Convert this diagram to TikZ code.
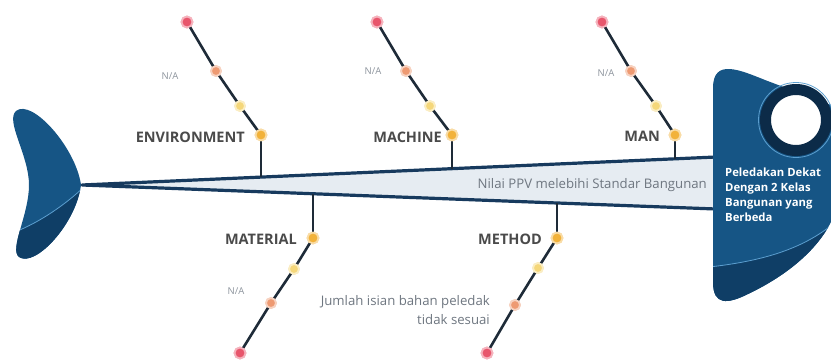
\documentclass[tikz,border=0pt]{standalone}
\usepackage{fontspec}
\setmainfont{Open Sans}
\definecolor{dotred}{HTML}{E8566C}
\definecolor{dotorange}{HTML}{EE9A72}
\definecolor{dotyellow}{HTML}{F5D77A}
\definecolor{dotgold}{HTML}{F2B23A}
\definecolor{bonec}{HTML}{1E2B38}
\definecolor{spinec}{HTML}{173A5E}
\definecolor{spinefill}{HTML}{E6ECF2}
\definecolor{headc}{HTML}{165585}
\definecolor{headdark}{HTML}{0F3E66}
\definecolor{ringc}{HTML}{0C2B48}
\definecolor{hilite}{HTML}{5C9FD0}
\definecolor{catgray}{HTML}{4A4A4A}
\definecolor{textgray}{HTML}{6E7680}
\definecolor{nagray}{HTML}{8C939C}
\begin{document}
\begin{tikzpicture}[x=1pt,y=-1pt,
  bone/.style={line width=2.6pt, draw=bonec},
  dotbase/.style={circle, inner sep=0pt, draw=#1!45, line width=1.8pt, fill=#1},
  dr/.style={dotbase=dotred, minimum size=11pt},
  dor/.style={dotbase=dotorange, minimum size=10pt},
  dy/.style={dotbase=dotyellow, minimum size=10pt},
  dg/.style={dotbase=dotgold, minimum size=11pt},
  cat/.style={font=\bfseries\fontsize{14.5}{17}\selectfont, text=catgray, anchor=east, inner sep=0pt},
  na/.style={font=\fontsize{9.5}{11}\selectfont, text=nagray, inner sep=0pt},
  note/.style={font=\fontsize{13.2}{19.5}\selectfont, text=textgray, inner sep=0pt}
]
\useasboundingbox (0,0) rectangle (831,362);

% spine
\coordinate (tail) at (82,185);
\coordinate (spT) at (716,157);
\coordinate (spB) at (716,209);
\filldraw[fill=spinefill, draw=spinec, line width=3.2pt, line join=round] (tail) -- (spT) -- (spB) -- cycle;
\node[note, anchor=east] (ppv) at (707,185) {Nilai PPV melebihi Standar Bangunan};

% attachment points on spine
\coordinate (aEnv) at (261,177.1);
\coordinate (aMac) at (452,168.7);
\coordinate (aMan) at (675,158.8);
\coordinate (aMat) at (313,193.7);
\coordinate (aMet) at (557,203.0);

% ENVIRONMENT
\node[dg]  (g1) at (261,135) {};
\node[dy]  (y1) at (240,106) {};
\node[dor] (o1) at (216,71) {};
\node[dr]  (r1) at (187,22) {};
% MACHINE
\node[dg]  (g2) at (452,135) {};
\node[dy]  (y2) at (430,106) {};
\node[dor] (o2) at (406,71) {};
\node[dr]  (r2) at (377,22) {};
% MAN
\node[dg]  (g3) at (675,135) {};
\node[dy]  (y3) at (656,106) {};
\node[dor] (o3) at (631,71) {};
\node[dr]  (r3) at (602,22) {};
% MATERIAL
\node[dg]  (g4) at (313,238) {};
\node[dy]  (y4) at (294,269) {};
\node[dor] (o4) at (271,303) {};
\node[dr]  (r4) at (240,353) {};
% METHOD
\node[dg]  (g5) at (557,238) {};
\node[dy]  (y5) at (538,268) {};
\node[dor] (o5) at (515,305) {};
\node[dr]  (r5) at (487,353) {};

\foreach \i/\a in {1/aEnv,2/aMac,3/aMan,4/aMat,5/aMet}{
  \draw[bone] (g\i.center) -- (\a);
  \draw[bone] (r\i.center) -- (o\i.center) -- (y\i.center) -- (g\i.center);
}
\foreach \i in {1,...,5}{
  \node[dg]  at (g\i) {};
  \node[dy]  at (y\i) {};
  \node[dor] at (o\i) {};
  \node[dr]  at (r\i) {};
}

% labels
\node[cat] (lEnv) at (245,137) {ENVIRONMENT};
\node[cat] (lMac) at (442,137) {MACHINE};
\node[cat] (lMan) at (660,136) {MAN};
\node[cat] (lMat) at (297,239) {MATERIAL};
\node[cat] (lMet) at (542,239) {METHOD};

\node[na] (n1) at (170,76) {N/A};
\node[na] (n2) at (373,71) {N/A};
\node[na] (n3) at (606,73) {N/A};
\node[na] (n4) at (236,291) {N/A};
\node[note, align=right, anchor=east] (jml) at (490,310) {Jumlah isian bahan peledak\\tidak sesuai};

% head
\path[fill=headc] (831,105) -- (765,80) .. controls (740,70) and (713,58) .. (713,88)
  -- (713,282) .. controls (713,306) and (728,304) .. (748,294)
  .. controls (790,274) and (818,248) .. (831,222) -- cycle;
\begin{scope}
  \clip (831,105) -- (765,80) .. controls (740,70) and (713,58) .. (713,88)
  -- (713,282) .. controls (713,306) and (728,304) .. (748,294)
  .. controls (790,274) and (818,248) .. (831,222) -- cycle;
  \fill[headdark] (700,268) .. controls (760,262) and (805,250) .. (840,218) -- (840,320) -- (700,320) -- cycle;
  \draw[hilite, line width=0.8pt] (700,268) .. controls (760,262) and (805,250) .. (840,218);
\end{scope}
\draw[hilite, line width=0.8pt] (796,120) circle (37.5);
\node[circle, fill=white, draw=ringc, line width=11pt, minimum size=61pt, inner sep=0pt] (eye) at (796,120) {};
\node[font=\bfseries\fontsize{11.3}{15}\selectfont, text=white, align=left, anchor=north west, inner sep=0pt] (prob) at (725,168)
  {Peledakan Dekat\\Dengan 2 Kelas\\Bangunan yang\\Berbeda};

% tail
\fill[headc] (16,111) .. controls (32,98) and (76,148) .. (81,185)
  .. controls (76,224) and (35,268) .. (19,257)
  .. controls (9,249) and (29,215) .. (29,185)
  .. controls (29,155) and (5,121) .. (16,111) -- cycle;
\begin{scope}
  \clip (16,111) .. controls (32,98) and (76,148) .. (81,185)
  .. controls (76,224) and (35,268) .. (19,257)
  .. controls (9,249) and (29,215) .. (29,185)
  .. controls (29,155) and (5,121) .. (16,111) -- cycle;
  \fill[headdark] (15,232) .. controls (40,222) and (65,205) .. (85,186) -- (85,270) -- (15,270) -- cycle;
  \draw[hilite, line width=0.8pt] (15,232) .. controls (40,222) and (65,205) .. (85,186);
\end{scope}
\end{tikzpicture}
\end{document}
